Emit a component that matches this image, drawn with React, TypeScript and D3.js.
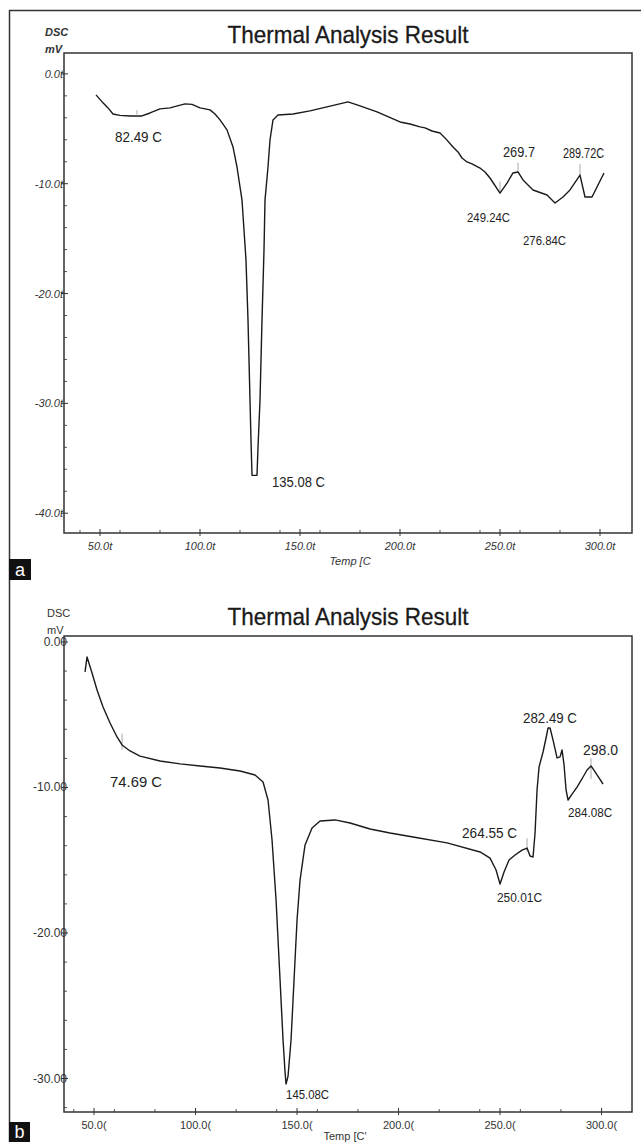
import React from "react";
import * as d3 from "d3";

// ---------- Panel a data (Temp °C, DSC mV) ----------
const tempA = [48, 51.5, 54, 56.5, 60, 65, 71, 75, 80, 85, 92.5, 96, 100, 105, 107.5, 110, 113.5, 116.5, 118.5, 121, 123, 124, 125, 125.5, 126, 128.5, 129, 130, 131, 132, 132.5, 134, 135, 136.5, 139, 146.5, 155, 163.5, 174, 180, 188.5, 200, 205, 210, 212.5, 216, 220, 222.5, 226.5, 229, 231, 233.5, 236, 240, 242.5, 245, 250, 253.5, 256.5, 259, 261.5, 266.5, 273.5, 277.5, 281.5, 285, 290, 292.5, 296, 298.5, 302];
const dscA = [-1.91, -2.64, -3.1, -3.65, -3.78, -3.83, -3.83, -3.56, -3.19, -3.1, -2.73, -2.78, -3.1, -3.28, -3.65, -4.19, -5.1, -6.65, -8.48, -11.49, -16.96, -22.42, -29.72, -33.36, -36.55, -36.55, -34.0, -29.72, -22.42, -16.04, -11.49, -8.48, -6.02, -4.19, -3.74, -3.65, -3.37, -3.01, -2.55, -2.92, -3.46, -4.38, -4.56, -4.83, -4.92, -5.2, -5.38, -5.83, -6.65, -7.11, -7.66, -8.02, -8.2, -8.57, -8.93, -9.48, -10.85, -9.94, -9.02, -8.93, -9.66, -10.57, -11.03, -11.76, -11.21, -10.57, -9.21, -11.21, -11.21, -10.3, -9.02];

// ---------- Panel b data ----------
const tempB = [45.57, 46.55, 49.01, 51.48, 54.43, 57.88, 61.33, 63.79, 67.73, 72.66, 82.51, 92.36, 102.22, 112.07, 121.92, 129.31, 133.25, 135.71, 137.68, 139.66, 141.63, 143.1, 144.09, 144.58, 145.57, 147.04, 148.52, 150.0, 151.48, 153.94, 157.39, 161.33, 168.72, 176.11, 185.96, 195.81, 207.14, 223.89, 240.15, 245.07, 248.03, 250.0, 251.97, 254.43, 257.39, 260.84, 263.3, 264.78, 266.26, 267.24, 268.23, 269.21, 271.18, 272.66, 273.65, 274.63, 276.11, 278.08, 279.56, 280.54, 281.53, 282.51, 283.5, 285.47, 287.93, 290.89, 292.86, 294.83, 297.78, 300.74];
const dscB = [-2.06, -1.03, -2.13, -3.3, -4.47, -5.57, -6.53, -7.08, -7.49, -7.84, -8.18, -8.38, -8.52, -8.66, -8.87, -9.14, -9.62, -10.86, -13.61, -17.73, -23.23, -27.35, -29.55, -30.38, -29.83, -27.35, -23.23, -19.11, -16.36, -13.95, -12.78, -12.3, -12.23, -12.44, -12.85, -13.13, -13.4, -13.81, -14.43, -14.85, -15.67, -16.63, -15.81, -14.98, -14.64, -14.3, -14.16, -14.71, -14.78, -13.13, -10.17, -8.59, -7.56, -6.6, -5.91, -5.91, -6.74, -7.97, -7.9, -7.42, -8.45, -10.17, -10.86, -10.45, -9.97, -9.28, -8.8, -8.52, -9.14, -9.76];

// ---------- Axes ----------
const xTicks = [50, 100, 150, 200, 250, 300];
const xTickLabelsA = ["50.0t", "100.0t", "150.0t", "200.0t", "250.0t", "300.0t"];
const xTickLabelsB = ["50.0(", "100.0(", "150.0(", "200.0(", "250.0(", "300.0("];
const yTicksA = [0, -10, -20, -30, -40];
const yTickLabelsA = ["0.0t", "-10.0t", "-20.0t", "-30.0t", "-40.0t"];
const yTicksB = [0, -10, -20, -30];
const yTickLabelsB = ["0.00", "-10.00", "-20.00", "-30.00"];

// ---------- Peak annotations (text, anchor temp, anchor mV) ----------
const annTextA = ["82.49 C", "135.08 C", "269.7", "289.72C", "249.24C", "276.84C"];
const annTempA = [57.5, 136, 251.5, 281.5, 233.5, 261.5];
const annValA = [-5.74, -37.1, -7.11, -7.2, -13.04, -15.13];
const markTempA = [68.5, 259, 290, 250];
const markTopA = [-3.3, -8.1, -8.2, -9.8];
const markBotA = [-3.7, -8.9, -9.2, -10.8];

const annTextB = ["74.69 C", "145.08C", "264.55 C", "282.49 C", "298.0", "284.08C", "250.01C"];
const annTempB = [57.88, 144.6, 231.3, 261.3, 290.9, 283.5, 248.5];
const annValB = [-9.62, -31.13, -13.06, -5.22, -7.42, -11.75, -17.53];
const markTempB = [63.8, 263.3, 294.8];
const markTopB = [-6.3, -13.5, -8.0];
const markBotB = [-7.4, -14.4, -9.4];

const FONT = "'Liberation Sans', Arial, sans-serif";

type PanelCfg = {
  left: number; top: number; right: number; bottom: number;
  xDomain: [number, number]; yDomain: [number, number];
  temp: number[]; dsc: number[];
  xLabels: string[]; yTicks: number[]; yLabels: string[];
  italic: boolean;
  annText: string[]; annTemp: number[]; annVal: number[]; annWidth: number[]; annSize: number[];
  markTemp: number[]; markTop: number[]; markBot: number[];
  titleY: number; dscY: number; dscX: number; axisTitle: string; axisTitleX: number; axisTitleY: number;
  yLabelEnd: number; yLabelSize: number;
};

function Panel({ c }: { c: PanelCfg }) {
  const x = d3.scaleLinear().domain(c.xDomain).range([c.left, c.right]);
  const y = d3.scaleLinear().domain(c.yDomain).range([c.top, c.bottom]);
  const pts: [number, number][] = c.temp.map((t, i) => [t, c.dsc[i]]);
  const line = d3.line<[number, number]>().x((d) => x(d[0])).y((d) => y(d[1]))(pts) || "";
  const minorX = d3.range(40, 320, 20).filter((t) => t > c.xDomain[0] && t < c.xDomain[1] && t % 50 !== 0);
  const minorY = d3.range(0, -44, -2).filter((v) => v < c.yDomain[0] && v > c.yDomain[1] && v % 10 !== 0);
  const fs = c.italic ? "italic" : "normal";
  return (
    <g>
      <text x={348} y={c.titleY} textAnchor="middle" fontFamily={FONT} fontSize={24} fill="#1a1a1a"
        textLength={241} lengthAdjust="spacingAndGlyphs" stroke="#1a1a1a" strokeWidth={0.3}>Thermal Analysis Result</text>
      <text x={c.dscX} y={c.dscY} fontFamily={FONT} fontSize={11} fontStyle={fs} fontWeight={c.italic ? "bold" : "normal"} fill="#333" dominantBaseline="central">DSC</text>
      <text x={c.dscX} y={c.dscY + 17} fontFamily={FONT} fontSize={11} fontStyle={fs} fontWeight={c.italic ? "bold" : "normal"} fill="#333" dominantBaseline="central">mV</text>
      {c.yTicks.map((v, i) => (
        <g key={"yl" + i}>
          <text x={c.yLabelEnd} y={y(v)} textAnchor="end" dominantBaseline="central" fontFamily={FONT}
            fontSize={c.yLabelSize} fontStyle={fs} fill="#333">{c.yLabels[i]}</text>
          <line x1={c.left - 3} x2={c.left + 4} y1={y(v)} y2={y(v)} stroke="#333" strokeWidth={1} />
        </g>
      ))}
      {minorY.map((v, i) => (
        <line key={"my" + i} x1={c.left} x2={c.left + 3} y1={y(v)} y2={y(v)} stroke="#555" strokeWidth={1} />
      ))}
      {xTicks.map((t, i) => (
        <g key={"xl" + i}>
          <line x1={x(t)} x2={x(t)} y1={c.bottom - 4} y2={c.bottom + 3} stroke="#333" strokeWidth={1} />
          <text x={x(t)} y={c.bottom + 13} textAnchor="middle" dominantBaseline="central" fontFamily={FONT}
            fontSize={11} fontStyle={fs} fill="#333">{c.xLabels[i]}</text>
        </g>
      ))}
      {minorX.map((t, i) => (
        <line key={"mx" + i} x1={x(t)} x2={x(t)} y1={c.bottom - 3} y2={c.bottom} stroke="#555" strokeWidth={1} />
      ))}
      <text x={c.axisTitleX} y={c.axisTitleY} textAnchor="middle" dominantBaseline="central" fontFamily={FONT}
        fontSize={11} fontStyle={fs} fill="#333">{c.axisTitle}</text>
      <rect x={c.left} y={c.top} width={c.right - c.left} height={c.bottom - c.top} fill="none" stroke="#333" strokeWidth={1.5} />
      {c.markTemp.map((t, i) => (
        <line key={"mk" + i} x1={x(t)} x2={x(t)} y1={y(c.markTop[i])} y2={y(c.markBot[i])} stroke="#aaa" strokeWidth={1} />
      ))}
      <path d={line} fill="none" stroke="#1a1a1a" strokeWidth={1.4} strokeLinejoin="round" />
      {c.annText.map((s, i) => (
        <text key={"an" + i} x={x(c.annTemp[i])} y={y(c.annVal[i])} dominantBaseline="central" fontFamily={FONT}
          fontSize={c.annSize[i]} fill="#222" textLength={c.annWidth[i]} lengthAdjust="spacingAndGlyphs">{s}</text>
      ))}
    </g>
  );
}

export default function App() {
  const a: PanelCfg = {
    left: 64, top: 53, right: 632, bottom: 533,
    xDomain: [32, 316], yDomain: [1.9, -41.8],
    temp: tempA, dsc: dscA,
    xLabels: xTickLabelsA, yTicks: yTicksA, yLabels: yTickLabelsA, italic: true,
    annText: annTextA, annTemp: annTempA, annVal: annValA,
    annWidth: [47, 53, 32, 41, 43, 43], annSize: [15, 15, 15, 14, 13, 13],
    markTemp: markTempA, markTop: markTopA, markBot: markBotA,
    titleY: 43, dscY: 32, dscX: 45, axisTitle: "Temp [C", axisTitleX: 350, axisTitleY: 561,
    yLabelEnd: 63, yLabelSize: 11,
  };
  const b: PanelCfg = {
    left: 64, top: 636, right: 632, bottom: 1112,
    xDomain: [35.2, 315], yDomain: [0.41, -32.3],
    temp: tempB, dsc: dscB,
    xLabels: xTickLabelsB, yTicks: yTicksB, yLabels: yTickLabelsB, italic: false,
    annText: annTextB, annTemp: annTempB, annVal: annValB,
    annWidth: [52, 43, 55, 54, 35, 44, 45], annSize: [15, 13, 15, 15, 15, 13, 13],
    markTemp: markTempB, markTop: markTopB, markBot: markBotB,
    titleY: 625, dscY: 613, dscX: 47, axisTitle: "Temp [C'", axisTitleX: 345, axisTitleY: 1136,
    yLabelEnd: 67, yLabelSize: 12,
  };
  return (
    <svg width={641} height={1142} style={{ position: "absolute", left: 0, top: 0, background: "#fff" }}>
      <rect x={0} y={0} width={641} height={1142} fill="#fff" />
      <line x1={9.5} x2={9.5} y1={10} y2={1142} stroke="#333" strokeWidth={1.5} />
      <line x1={9} x2={641} y1={10.5} y2={10.5} stroke="#333" strokeWidth={1.5} />
      <Panel c={a} />
      <Panel c={b} />
      <rect x={9} y={559} width={22} height={21} fill="#111" />
      <text x={20} y={570} textAnchor="middle" dominantBaseline="central" fontFamily={FONT} fontSize={18} fill="#fff">a</text>
      <rect x={9} y={1122} width={21} height={20} fill="#111" />
      <text x={19.5} y={1132} textAnchor="middle" dominantBaseline="central" fontFamily={FONT} fontSize={18} fill="#fff">b</text>
    </svg>
  );
}
